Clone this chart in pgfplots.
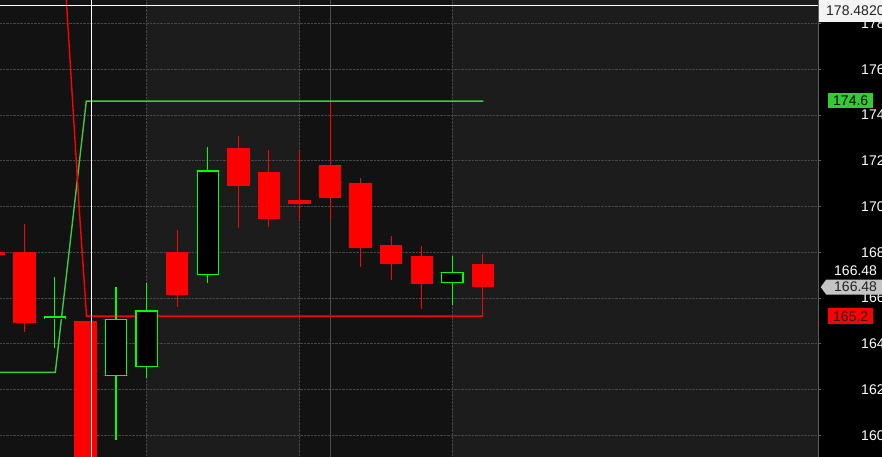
\documentclass[border=0pt]{standalone}
\usepackage{pgfplots}
\pgfplotsset{compat=1.18}
\usepackage{fontspec}
\setmainfont{Liberation Sans}

\definecolor{bgdark}{HTML}{121212}
\definecolor{bglight}{HTML}{1C1C1C}
\definecolor{gridgrey}{HTML}{474747}
\definecolor{bearred}{HTML}{FF0000}
\definecolor{bullgreen}{HTML}{00FF00}
\definecolor{levelgreen}{HTML}{40C840}
\definecolor{levelred}{HTML}{FF0000}
\definecolor{cursorgrey}{HTML}{4E4E4E}
\definecolor{axisgrey}{HTML}{5E5E5E}
\definecolor{tagwhite}{HTML}{F4F4F4}
\definecolor{taggrey}{HTML}{C4C4C4}
\definecolor{taggreen}{HTML}{33CC33}
\definecolor{tagtext}{HTML}{222222}

\newcommand{\lbl}{\fontsize{14}{16}\selectfont}

% candle: index, open, high, low, close
% body = a butt-capped line as wide as the candle
\newcommand{\bear}[5]{%
  \addplot[bearred, line width=1pt] coordinates {(#1,#4) (#1,#3)};
  \addplot[bearred, line width=22.5pt] coordinates {(#1,#2) (#1,#5)};}
\newcommand{\bull}[5]{%
  \addplot[bullgreen, line width=1.2pt] coordinates {(#1,#4) (#1,#3)};
  \addplot[bullgreen, line width=22.5pt] coordinates {(#1,#2) (#1,#5)};
  \addplot[black, line width=20.1pt, shorten <=1.2pt, shorten >=1.2pt] coordinates {(#1,#2) (#1,#5)};}

\begin{document}
\begin{tikzpicture}
\path[use as bounding box, clip] (0,0) rectangle (882pt,457pt);
% session bands behind the grid
\fill[bgdark] (0,0) rectangle (818pt,457pt);
\fill[bglight] (146.6pt,0) rectangle (299.5pt,457pt);
\fill[bglight] (452.3pt,0) rectangle (818pt,457pt);
\fill[black] (818pt,0) rectangle (882pt,457pt);

\begin{axis}[
  at={(0,0)}, anchor=south west,
  scale only axis, width=818pt, height=457pt,
  xmin=-0.795, xmax=25.96, ymin=159.05, ymax=179.03,
  axis line style={draw=none},
  xtick={4,9,14}, xticklabels={}, x tick style={draw=none},
  ytick={160,162,...,178}, ytick pos=right, yticklabel pos=right,
  tick align=outside, major tick length=3pt,
  y tick style={axisgrey, line width=1pt},
  yticklabel style={anchor=west, inner sep=0pt, text=white, font=\lbl, xshift=40pt},
  /pgf/number format/assume math mode=true,
  grid=major, major grid style={gridgrey, densely dotted, line width=1pt},
  clip mode=individual,
]
% cursor line
\addplot[cursorgrey, line width=1pt] coordinates {(10.01,159.05) (10.01,179.03)};
% levels
\addplot[levelgreen, line width=1.4pt] coordinates {(-0.795,162.75) (1.014,162.75) (2.028,174.61) (15.015,174.61)};
\addplot[levelred, line width=1.4pt] coordinates {(1.346,179.63) (1.374,179.03) (1.799,169.85) (2.035,165.21) (15.015,165.21)};

\bear{-1}{168.00}{168.00}{167.87}{167.87}
\bear{0}{168.01}{169.24}{164.53}{164.92}
\bull{1}{165.07}{166.92}{163.83}{165.20}
\bear{2}{165.00}{165.00}{157.00}{157.50}
\bull{3}{162.58}{166.48}{159.81}{165.08}
\bull{4}{162.97}{166.66}{162.52}{165.46}
\bear{5}{168.01}{168.97}{165.62}{166.15}
\bull{6}{166.99}{172.60}{166.67}{171.58}
\bear{7}{172.56}{173.08}{169.08}{170.91}
\bear{8}{171.51}{172.47}{169.12}{169.46}
\bear{9}{170.29}{172.43}{169.41}{170.12}
\bear{10}{171.82}{174.57}{169.41}{170.39}
\bear{11}{171.03}{171.25}{167.37}{168.20}
\bear{12}{168.32}{168.71}{166.80}{167.50}
\bear{13}{167.84}{168.28}{165.53}{166.63}
\bull{14}{166.64}{167.84}{165.70}{167.13}
\bear{15}{167.49}{167.93}{165.21}{166.48}

% crosshair
\addplot[white, line width=1pt] coordinates {(2.192,159.05) (2.192,179.03)};
\addplot[white, line width=1pt] coordinates {(-0.795,178.77) (25.96,178.77)};

\coordinate (tagcross) at (axis cs:25.96,178.55);
\coordinate (taggreen) at (axis cs:25.96,174.62);
\coordinate (lastval) at (axis cs:25.96,167.20);
\coordinate (taglast) at (axis cs:25.96,166.48);
\coordinate (tagred) at (axis cs:25.96,165.20);
\end{axis}

\draw[axisgrey, line width=1pt] (818.5pt,0) -- (818.5pt,457pt);
\node[fill=tagwhite, text=tagtext, anchor=west, inner xsep=7pt, inner ysep=0pt,
  minimum height=22pt, font=\lbl] at ([xshift=1pt]tagcross) {178.4820};
\node[fill=taggreen, text=black, anchor=west, inner xsep=5pt, inner ysep=0pt,
  minimum height=15pt, font=\lbl] at ([xshift=10pt]taggreen) {174.6};
\node[text=white, anchor=west, inner sep=0pt, font=\lbl] at ([xshift=16pt]lastval) {166.48};
\fill[taggrey] ([xshift=2.7pt]taglast) -- ++(5.5pt,7.5pt) -- ++(70pt,0pt)
  -- ++(0pt,-15pt) -- ++(-70pt,0pt) -- cycle;
\node[text=tagtext, anchor=west, inner sep=0pt, font=\lbl] at ([xshift=16pt]taglast) {166.48};
\node[fill=bearred, text=tagtext, anchor=west, inner xsep=5pt, inner ysep=0pt,
  minimum height=16pt, font=\lbl] at ([xshift=10pt]tagred) {165.2};
\end{tikzpicture}
\end{document}
